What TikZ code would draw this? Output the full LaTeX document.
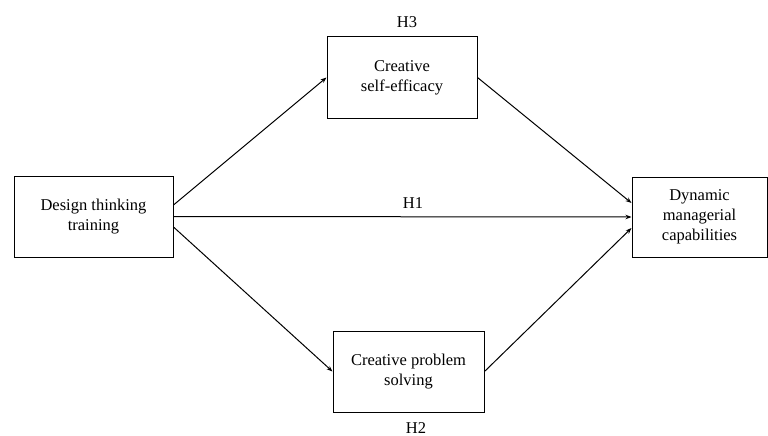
\documentclass[tikz,border=0pt]{standalone}
\usepackage{fontspec}
\setmainfont{Liberation Serif}
\usetikzlibrary{arrows.meta}
\begin{document}
\begin{tikzpicture}[x=1pt,y=-1pt,
  box/.style={draw,line width=1pt,inner sep=0pt,align=center,font=\fontsize{16.5}{20}\selectfont},
  lbl/.style={font=\fontsize{16.5}{20}\selectfont},
  arr/.style={line width=1pt,-{Stealth[length=6pt,width=4.5pt]}}]
\useasboundingbox (0,0) rectangle (768,436);
\node[box,minimum width=159pt,minimum height=81pt] (dt) at (93.5,216.5) {Design thinking\\training};
\node[box,minimum width=150pt,minimum height=81pt] (cse) at (402,77.5) {Creative\\self-efficacy};
\node[box,minimum width=151pt,minimum height=81pt] (cps) at (408.5,371.5) {Creative problem\\solving};
\node[box,minimum width=135pt,minimum height=80pt] (dmc) at (699.5,217) {Dynamic\\managerial\\capabilities};
\node[lbl] (h3) at (407,22) {H3};
\node[lbl] (h1) at (413,203) {H1};
\node[lbl] (h2) at (416,428) {H2};
\draw[arr] ([yshift=11.5pt]dt.east) -- (cse.west);
\draw[arr] (dt.east) -- (dmc.west);
\draw[arr] ([yshift=-10.5pt]dt.east) -- (cps.west);
\draw[arr] (cse.east) -- ([yshift=14pt]dmc.west);
\draw[arr] (cps.east) -- ([yshift=-11pt]dmc.west);
\end{tikzpicture}
\end{document}
